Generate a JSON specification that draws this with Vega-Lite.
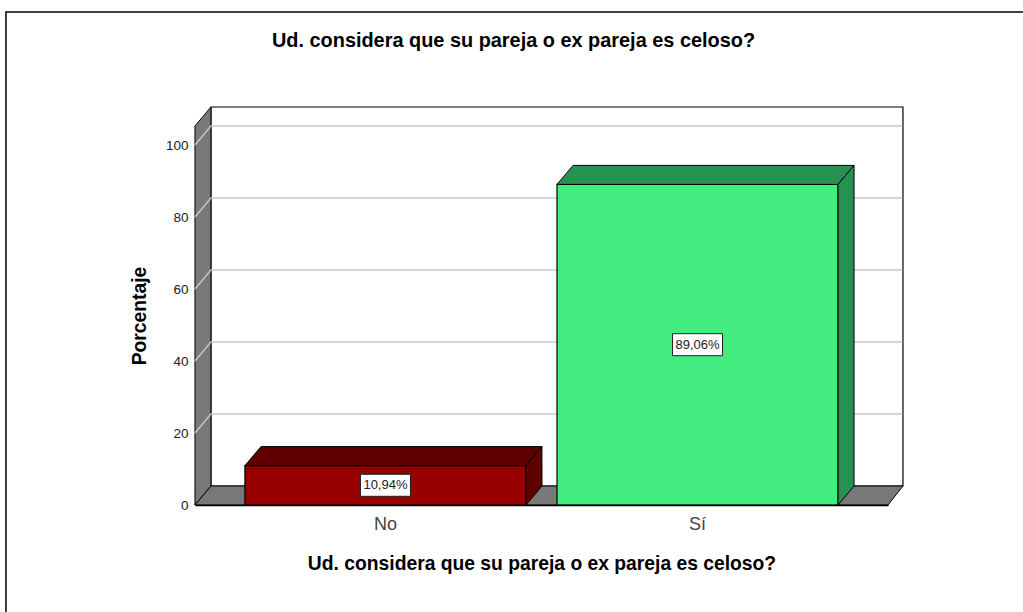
{
"$schema":"https://vega.github.io/schema/vega-lite/v6.json",
"width":693,"height":379,
"autosize":{"type":"none"},
"padding":{"left":195,"top":126,"right":135,"bottom":107},
"background":"white",
"view":{"stroke":null},
"config":{"font":"Liberation Sans"},
"title":{"text":"Ud. considera que su pareja o ex pareja es celoso?","font":"Liberation Sans","fontSize":19.9,"fontWeight":"bold","color":"black","anchor":"middle","dx":-28,"offset":-42},
"datasets":{
 "answers":[{"cat":"No","value":10.94,"label":"10,94%"},{"cat":"Sí","value":89.06,"label":"89,06%"}],
 "base":[{"cat":"No","value":0}],
 "ticks":[{"cat":"No","value":20},{"cat":"No","value":40},{"cat":"No","value":60},{"cat":"No","value":80},{"cat":"No","value":100}]
},
"data":{"name":"answers"},
"encoding":{
 "x":{"field":"cat","type":"nominal","sort":["No","Sí"],
  "scale":{"type":"band","domain":["No","Sí"],"paddingInner":0.0994,"paddingOuter":0.16},
  "axis":{"title":"Ud. considera que su pareja o ex pareja es celoso?","titleFont":"Liberation Sans","titleFontSize":19.3,"titleFontWeight":"bold","titleColor":"black","titlePadding":21,"labelFont":"Liberation Sans","labelFontSize":18,"labelColor":"#444444","labelAngle":0,"labelPadding":10,"ticks":false,"domain":true,"domainColor":"black","domainWidth":1.5,"grid":false,"zindex":1}}
},
"layer":[
 {
  "encoding":{"y":{"field":"value","type":"quantitative",
   "scale":{"domain":[0,105.28],"nice":false,"zero":false},
   "axis":{"title":"Porcentaje","titleFont":"Liberation Sans","titleFontSize":19.3,"titleFontWeight":"bold","titleColor":"black","titlePadding":16,"labelFont":"Liberation Sans","labelFontSize":13.5,"labelColor":"#222222","labelPadding":7,"ticks":false,"domain":false,"grid":false,"values":[0,20,40,60,80,100]}}},
  "resolve":{"scale":{"fill":"independent"}},
  "layer":[
   {"data":{"name":"base"},"mark":{"type":"point","filled":false,"fill":"transparent","opacity":1,"size":4,"stroke":"black","strokeWidth":1.5,"shape":"M-379.5 107 L-379.5 -493 L637.5 -493"}},
   {"data":{"name":"base"},"mark":{"type":"point","filled":false,"fill":"white","opacity":1,"size":4,"stroke":"black","strokeWidth":1.2,"shape":"M-174.5 -398 L517.5 -398 L517.5 -19 L-174.5 -19 Z"}},
   {"data":{"name":"base"},"mark":{"type":"point","filled":true,"fill":"#787878","opacity":1,"size":4,"stroke":"black","strokeWidth":1,"shape":"M-190.5 0 L-190.5 -379 L-174.5 -398 L-174.5 -19 Z"}},
   {"data":{"name":"base"},"mark":{"type":"point","filled":true,"fill":"#787878","opacity":1,"size":4,"stroke":"black","strokeWidth":1,"shape":"M-190.5 0 L-174.5 -19 L517.5 -19 L502.5 0 Z"}},
   {"data":{"name":"ticks"},"mark":{"type":"point","filled":false,"fill":"transparent","opacity":1,"size":4,"stroke":"#c8c8c8","strokeWidth":1.3,"shape":"M-190.5 0 L-174.5 -19 L517 -19"}},
   {"mark":{"type":"bar","stroke":"black","strokeWidth":1.2,"opacity":1},
    "encoding":{"y":{"field":"value","type":"quantitative","stack":null},
     "fill":{"field":"cat","type":"nominal","scale":{"domain":["No","Sí"],"range":["#990000","#42EC7F"]},"legend":null}}},
   {"mark":{"type":"point","filled":true,"opacity":1,"size":4,"stroke":"black","strokeWidth":1,"shape":"M-140.5 0 L-124.5 -19 L156.5 -19 L140.5 0 Z"},
    "encoding":{"fill":{"field":"cat","type":"nominal","scale":{"domain":["No","Sí"],"range":["#5E0000","#27914F"]},"legend":null}}},
   {"mark":{"type":"point","filled":true,"opacity":1,"size":4,"stroke":"black","strokeWidth":1},
    "encoding":{"fill":{"field":"cat","type":"nominal","scale":{"domain":["No","Sí"],"range":["#5E0000","#27914F"]},"legend":null},
     "shape":{"field":"cat","type":"nominal","legend":null,"scale":{"domain":["No","Sí"],"range":["M140.5 0 L156.5 -19 L156.5 20.4 L140.5 39.4 Z","M140.5 0 L156.5 -19 L156.5 301.6 L140.5 320.6 Z"]}}}}
  ]
 },
 {
  "encoding":{"y":{"field":"value","type":"quantitative","scale":{"domain":[0,210.56],"nice":false,"zero":false},"axis":null}},
  "layer":[
   {"mark":{"type":"point","filled":true,"fill":"white","opacity":1,"size":4,"stroke":"#222222","strokeWidth":1,"shape":"M-25 -11 L25 -11 L25 11 L-25 11 Z"}},
   {"mark":{"type":"text","font":"Liberation Sans","fontSize":13,"color":"#222222","align":"center","baseline":"middle"},
    "encoding":{"text":{"field":"label","type":"nominal"}}}
  ]
 }
],
"resolve":{"scale":{"y":"independent"}}
}
